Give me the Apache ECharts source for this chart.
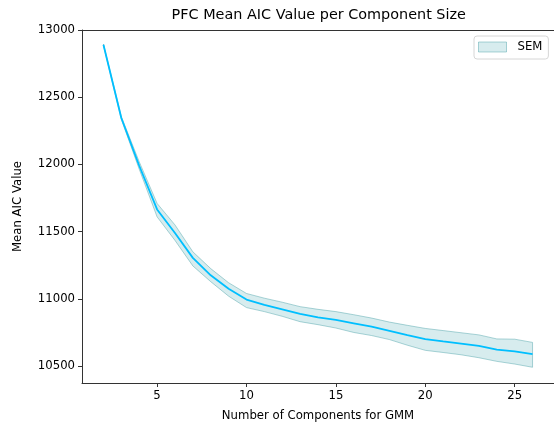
<!DOCTYPE html>
<html>
<head>
<meta charset="utf-8">
<script src="https://cdn.jsdelivr.net/npm/echarts@6/dist/echarts.min.js"></script>
<style>
  html, body { margin: 0; padding: 0; background: #fff; }
  #chart { width: 554px; height: 429px; }
</style>
</head>
<body>
<div id="chart"></div>
<script>
// Number of GMM components evaluated
const components = [2, 3, 4, 5, 6, 7, 8, 9, 10, 11, 12, 13, 14, 15, 16, 17, 18, 19, 20, 21, 22, 23, 24, 25, 26];
// Mean AIC per component count
const meanAIC = [12890, 12345, 11990, 11665, 11490, 11305, 11175, 11075, 10995, 10955, 10922, 10888, 10862,
                 10843, 10818, 10793, 10762, 10731, 10701, 10683, 10667, 10650, 10622, 10610, 10588];
// Mean + SEM
const semUpper = [12895, 12355, 12020, 11710, 11550, 11350, 11225, 11120, 11040, 11005, 10975, 10942, 10922,
                  10905, 10882, 10857, 10827, 10803, 10780, 10764, 10748, 10732, 10702, 10700, 10676];
// Mean - SEM
const semLower = [12885, 12335, 11965, 11610, 11435, 11245, 11128, 11020, 10935, 10905, 10870, 10830, 10808,
                  10783, 10750, 10727, 10697, 10655, 10617, 10601, 10584, 10562, 10535, 10515, 10491];
// Tick labels
const xTicks = [5, 10, 15, 20, 25];
const yTicks = [10500, 11000, 11500, 12000, 12500, 13000];

const FONT = 'DejaVu Sans';
const bandFill = 'rgba(95,178,186,0.25)';
const bandEdge = 'rgba(70,160,166,0.45)';
const spine = '#333';

const chart = echarts.init(document.getElementById('chart'), null, { renderer: 'canvas' });

const gridLeft = 82, gridTop = 30, gridWidth = 473.5, gridHeight = 353;
const X_MIN = 0.8, X_MAX = 27.2;

chart.setOption({
  animation: false,
  textStyle: { fontFamily: FONT },
  graphic: [{
    type: 'text',
    x: gridLeft + gridWidth / 2,
    y: 15,
    style: {
      text: 'PFC Mean AIC Value per Component Size',
      font: '14.4px "DejaVu Sans"',
      fill: '#000',
      textAlign: 'center',
      textVerticalAlign: 'middle'
    }
  }],
  legend: {
    data: [{ name: 'SEM', icon: 'rect', itemStyle: { color: bandFill, borderColor: bandEdge, borderWidth: 1 } }],
    left: 474,
    top: 36,
    orient: 'vertical',
    itemWidth: 28,
    itemHeight: 10,
    padding: [5, 6, 6, 4],
    backgroundColor: '#fff',
    borderColor: '#d6d6d6',
    borderWidth: 1,
    borderRadius: 3,
    textStyle: { fontFamily: FONT, fontSize: 11.7, color: '#000', padding: [0, 0, 0, 6] }
  },
  grid: {
    left: gridLeft, top: gridTop, width: gridWidth, height: gridHeight,
    show: false, containLabel: false
  },
  xAxis: [{
    type: 'value',
    min: X_MIN, max: X_MAX,
    name: 'Number of Components for GMM',
    nameLocation: 'middle',
    nameGap: 27,
    nameTextStyle: { fontFamily: FONT, fontSize: 11.7, color: '#000' },
    splitLine: { show: false },
    axisLine: { show: true, onZero: false, lineStyle: { color: spine, width: 1 } },
    axisTick: { show: true, length: 4, customValues: xTicks, lineStyle: { color: spine } },
    axisLabel: { customValues: xTicks, margin: 7, fontFamily: FONT, fontSize: 11.7, color: '#000' }
  }, {
    // top spine
    type: 'value',
    position: 'top',
    min: X_MIN, max: X_MAX,
    splitLine: { show: false },
    axisLine: { show: true, onZero: false, lineStyle: { color: spine, width: 1 } },
    axisTick: { show: false },
    axisLabel: { show: false }
  }],
  yAxis: {
    type: 'value',
    min: 10374, max: 13000,
    name: 'Mean AIC Value',
    nameLocation: 'middle',
    nameGap: 58,
    nameTextStyle: { fontFamily: FONT, fontSize: 11.7, color: '#000' },
    splitLine: { show: false },
    axisLine: { show: true, onZero: false, lineStyle: { color: spine, width: 1 } },
    axisTick: { show: true, length: 4, customValues: yTicks, lineStyle: { color: spine } },
    axisLabel: {
      customValues: yTicks, margin: 7, fontFamily: FONT, fontSize: 11.7, color: '#000',
      formatter: v => String(v)
    }
  },
  series: [
    {
      name: 'SEM',
      type: 'custom',
      itemStyle: { color: bandFill, borderColor: bandEdge, borderWidth: 1 },
      data: components.map((c, i) => [c, semLower[i], semUpper[i]]),
      encode: { x: 0, y: [1, 2] },
      renderItem: function (params, api) {
        if (params.dataIndex !== 0) return null;
        const pts = [];
        for (let i = 0; i < components.length; i++) pts.push(api.coord([components[i], semUpper[i]]));
        for (let i = components.length - 1; i >= 0; i--) pts.push(api.coord([components[i], semLower[i]]));
        return {
          type: 'polygon',
          shape: { points: pts },
          style: { fill: bandFill, stroke: bandEdge, lineWidth: 1 }
        };
      },
      z: 1
    },
    {
      name: 'Mean AIC',
      type: 'line',
      data: components.map((c, i) => [c, meanAIC[i]]),
      showSymbol: false,
      lineStyle: { color: '#00bfff', width: 1.8 },
      itemStyle: { color: '#00bfff' },
      z: 3
    }
  ]
});
</script>
</body>
</html>
